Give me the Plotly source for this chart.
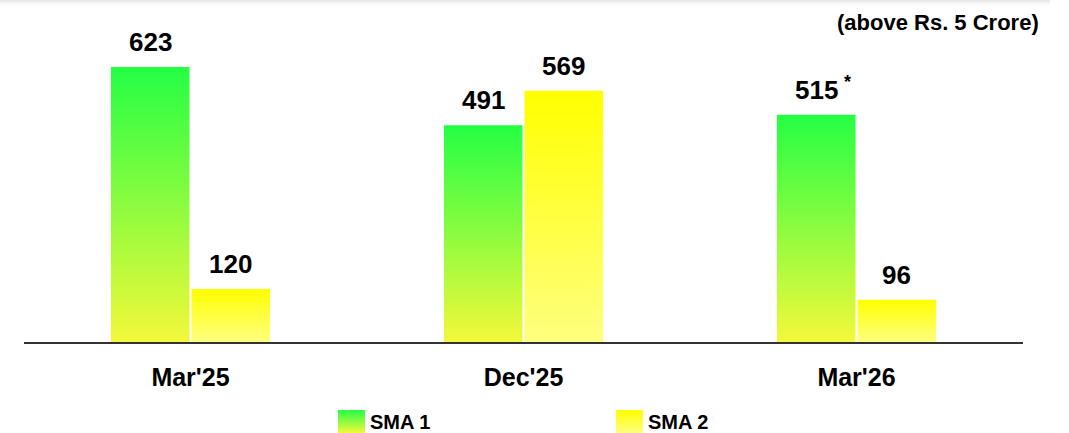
import base64
import plotly.graph_objects as go

# ---- data ----
periods = ["Mar'25", "Dec'25", "Mar'26"]
sma1 = [623, 491, 515]
sma2 = [120, 569, 96]
series_names = ["SMA 1", "SMA 2"]
unit_note = "(above Rs. 5 Crore)"
flagged_period = "Mar'26"   # SMA 1 value carries an asterisk

# ---- styling ----
FONT = "Liberation Sans, Arial, sans-serif"
GREEN_TOP, GREEN_BOTTOM = "#24ff44", "#f4f83a"
YELLOW_TOP, YELLOW_BOTTOM = "#ffff00", "#ffff80"
BAR_W = 0.236
GAP = 0.003

W, H = 1069, 433
ML, MR, MT, MB = 24, 46, 20, 91
PLOT_W = W - ML - MR
PLOT_H = H - MT - MB
Y_MAX = 729.5


def px_to_paper_x(px):
    return (px - ML) / PLOT_W


def px_to_paper_y(py):
    return (H - MB - py) / PLOT_H


def gradient_svg(top, bottom, w=27, h=23):
    svg = (
        f'<svg xmlns="http://www.w3.org/2000/svg" width="{w}" height="{h}">'
        '<defs><linearGradient id="g" x1="0" y1="0" x2="0" y2="1">'
        f'<stop offset="0" stop-color="{top}"/><stop offset="1" stop-color="{bottom}"/>'
        '</linearGradient></defs>'
        f'<rect width="{w}" height="{h}" fill="url(#g)"/></svg>'
    )
    return "data:image/svg+xml;base64," + base64.b64encode(svg.encode()).decode()


fig = go.Figure()

series = [
    (series_names[0], sma1, -1, GREEN_TOP, GREEN_BOTTOM),
    (series_names[1], sma2, 1, YELLOW_TOP, YELLOW_BOTTOM),
]

for name, values, side, top, bottom in series:
    for i, v in enumerate(values):
        # bar edges along the category axis
        if side < 0:
            x0, x1 = i - GAP - BAR_W, i - GAP
        else:
            x0, x1 = i + GAP, i + GAP + BAR_W
        fig.add_trace(go.Scatter(
            x=[x0, x1, x1, x0, x0],
            y=[0, 0, v, v, 0],
            mode="lines",
            line=dict(width=0),
            fill="toself",
            fillgradient=dict(
                type="vertical",
                colorscale=[[0, bottom], [1, top]],
                start=0,
                stop=v,
            ),
            name=name,
            showlegend=False,
            hoverinfo="skip",
        ))
        # value label above the bar
        fig.add_annotation(
            x=(x0 + x1) / 2, y=v, xref="x", yref="y",
            text=f"<b>{v}</b>", showarrow=False,
            yanchor="middle", yshift=25,
            font=dict(family=FONT, size=26, color="#000000"),
        )
        if side < 0 and periods[i] == flagged_period:
            fig.add_annotation(
                x=(x0 + x1) / 2, y=v, xref="x", yref="y",
                text="<b>*</b>", showarrow=False,
                yanchor="middle", xshift=31, yshift=33,
                font=dict(family=FONT, size=18, color="#000000"),
            )

# unit note in the top-right corner
fig.add_annotation(
    x=px_to_paper_x(1041), y=px_to_paper_y(22), xref="paper", yref="paper",
    text=f"<b>{unit_note}</b>", showarrow=False,
    xanchor="right", yanchor="middle",
    font=dict(family=FONT, size=22, color="#000000"),
)

# legend: gradient swatches + labels
legend_items = [
    (series_names[0], 338, GREEN_TOP, GREEN_BOTTOM),
    (series_names[1], 616, YELLOW_TOP, YELLOW_BOTTOM),
]
images = []
for name, left, top, bottom in legend_items:
    images.append(dict(
        source=gradient_svg(top, bottom),
        xref="paper", yref="paper",
        x=px_to_paper_x(left), y=px_to_paper_y(410),
        sizex=27 / PLOT_W, sizey=23 / PLOT_H,
        xanchor="left", yanchor="top",
        sizing="stretch", layer="above",
    ))
    fig.add_annotation(
        x=px_to_paper_x(left + 30), y=px_to_paper_y(422),
        xref="paper", yref="paper",
        text=f"<b>{name}</b>", showarrow=False,
        xanchor="left", yanchor="middle",
        font=dict(family=FONT, size=20, color="#000000"),
    )

# soft shadow strip along the top edge
shadow_svg = (
    '<svg xmlns="http://www.w3.org/2000/svg" width="1050" height="8">'
    '<defs><linearGradient id="s" x1="0" y1="0" x2="0" y2="1">'
    '<stop offset="0" stop-color="#e4e4e4"/><stop offset="1" stop-color="#ffffff" stop-opacity="0"/>'
    '</linearGradient></defs><rect width="1050" height="8" fill="url(#s)"/></svg>'
)
images.append(dict(
    source="data:image/svg+xml;base64," + base64.b64encode(shadow_svg.encode()).decode(),
    xref="paper", yref="paper",
    x=px_to_paper_x(0), y=px_to_paper_y(0),
    sizex=1050 / PLOT_W, sizey=8 / PLOT_H,
    xanchor="left", yanchor="top", sizing="stretch", layer="below",
))

fig.update_layout(
    width=W, height=H,
    margin=dict(l=ML, r=MR, t=MT, b=MB),
    paper_bgcolor="#ffffff",
    plot_bgcolor="#ffffff",
    showlegend=False,
    images=images,
    xaxis=dict(
        range=[-0.5, 2.5],
        tickmode="array",
        tickvals=list(range(len(periods))),
        ticktext=[f"<b>{p}</b>" for p in periods],
        tickfont=dict(family=FONT, size=25, color="#000000"),
        ticks="",
        ticklabelstandoff=12,
        showgrid=False,
        zeroline=False,
        showline=True,
        linecolor="#333333",
        linewidth=1.5,
        fixedrange=True,
    ),
    yaxis=dict(
        range=[0, Y_MAX],
        visible=False,
        showgrid=False,
        zeroline=False,
        fixedrange=True,
    ),
)

fig.write_html("out.html")
